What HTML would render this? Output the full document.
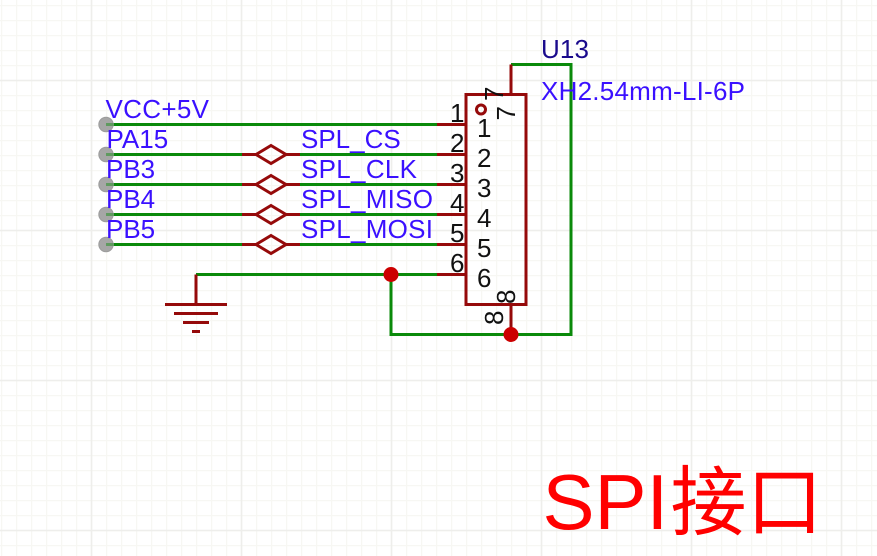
<!DOCTYPE html>
<html><head><meta charset="utf-8"><style>
html,body{margin:0;padding:0;background:#fff;width:877px;height:556px;overflow:hidden}
svg{display:block}
text{font-family:"Liberation Sans","Noto Sans CJK SC",sans-serif;font-size:26px}
.b{fill:#3a10ff}.k{fill:#111}
</style></head><body>
<svg width="877" height="556" viewBox="0 0 877 556">
<defs>
<pattern id="m" width="15" height="15" patternUnits="userSpaceOnUse" x="1" y="5">
<path d="M.5 0V15M0 .5H15" stroke="#f7f7f3" stroke-width="1.5" fill="none"/>
</pattern>
</defs>
<rect width="877" height="556" fill="#fff"/>
<rect width="877" height="556" fill="url(#m)"/>
<g stroke="#eeeeeb" stroke-width="1.6" fill="none">
<path d="M91.500 0V556M241.500 0V556M391.500 0V556M541.500 0V556M691.500 0V556M841.500 0V556"/>
<path d="M0 80.500H877M0 230.500H877M0 380.500H877M0 530.500H877"/>
</g>

<g stroke="#0a8a0a" stroke-width="3" fill="none">
<path d="M106 124.500H440"/>
<path d="M106 154.500H242M300 154.500H437"/>
<path d="M106 184.500H242M300 184.500H437"/>
<path d="M106 214.500H242M300 214.500H437"/>
<path d="M106 244.500H242M300 244.500H437"/>
<path d="M196 274.500H437"/>
<path d="M391 274.500V334.500H571V64.500H511"/>
</g>

<g stroke="#950a0a" stroke-width="3" fill="none">
<path d="M242 154.500H256M286 154.500H300M271 145.500L286 154.500L271 163.500L256 154.500Z"/>
<path d="M242 184.500H256M286 184.500H300M271 175.500L286 184.500L271 193.500L256 184.500Z"/>
<path d="M242 214.500H256M286 214.500H300M271 205.500L286 214.500L271 223.500L256 214.500Z"/>
<path d="M242 244.500H256M286 244.500H300M271 235.500L286 244.500L271 253.500L256 244.500Z"/>
<path d="M437 124.500H466M437 154.500H466M437 184.500H466M437 214.500H466M437 244.500H466M437 274.500H466"/>
<rect x="466" y="94.500" width="60" height="210"/>
<path d="M511 64.500V94.500M511 304.500V334.500"/>
<circle cx="481" cy="109.500" r="4.500"/>
<path d="M196 274.500V304.500M165 304.500H227M174 313.500H218M183 322.500H209M192 331.500H200"/>
</g>

<circle cx="391" cy="274.500" r="7.500" fill="#cc0000"/>
<circle cx="511" cy="334.500" r="7.500" fill="#cc0000"/>

<g fill="#a6a6a6" stroke="#9c9c9c" stroke-width="1">
<circle cx="106" cy="124.500" r="7.200"/>
<circle cx="106" cy="154.500" r="7.200"/>
<circle cx="106" cy="184.500" r="7.200"/>
<circle cx="106" cy="214.500" r="7.200"/>
<circle cx="106" cy="244.500" r="7.200"/>
</g>
<g stroke="#5f9a5f" stroke-width="3">
<path d="M106 124.500H113M106 154.500H113M106 184.500H113M106 214.500H113M106 244.500H113"/>
</g>

<text class="b" x="105.500" y="118" textLength="103.500">VCC+5V</text>
<text class="b" x="106.500" y="148">PA15</text>
<text class="b" x="106" y="178">PB3</text>
<text class="b" x="106" y="208">PB4</text>
<text class="b" x="106" y="238">PB5</text>

<text class="b" x="301" y="148">SPL_CS</text>
<text class="b" x="301" y="178" textLength="116">SPL_CLK</text>
<text class="b" x="301" y="208" textLength="132">SPL_MISO</text>
<text class="b" x="301" y="238" textLength="132">SPL_MOSI</text>

<text class="k" x="450" y="122">1</text>
<text class="k" x="450" y="152">2</text>
<text class="k" x="450" y="182">3</text>
<text class="k" x="450" y="212">4</text>
<text class="k" x="450" y="242">5</text>
<text class="k" x="450" y="272">6</text>

<text class="k" x="477" y="137">1</text>
<text class="k" x="477" y="167">2</text>
<text class="k" x="477" y="197">3</text>
<text class="k" x="477" y="227">4</text>
<text class="k" x="477" y="257">5</text>
<text class="k" x="477" y="287">6</text>

<text class="k" transform="translate(503 101) rotate(-90)">7</text>
<text class="k" transform="translate(515 120.500) rotate(-90)">7</text>
<text class="k" transform="translate(515 304) rotate(-90)">8</text>
<text class="k" transform="translate(503 325) rotate(-90)">8</text>

<text x="541" y="58" fill="#1a0a8c" textLength="48">U13</text>
<text class="b" x="541" y="100" textLength="204">XH2.54mm-LI-6P</text>

<text x="542.500" y="529" fill="#ff0000" style="font-size:78px">SPI<tspan x="670.500" style="font-size:76px">接口</tspan></text>
</svg>
</body></html>
